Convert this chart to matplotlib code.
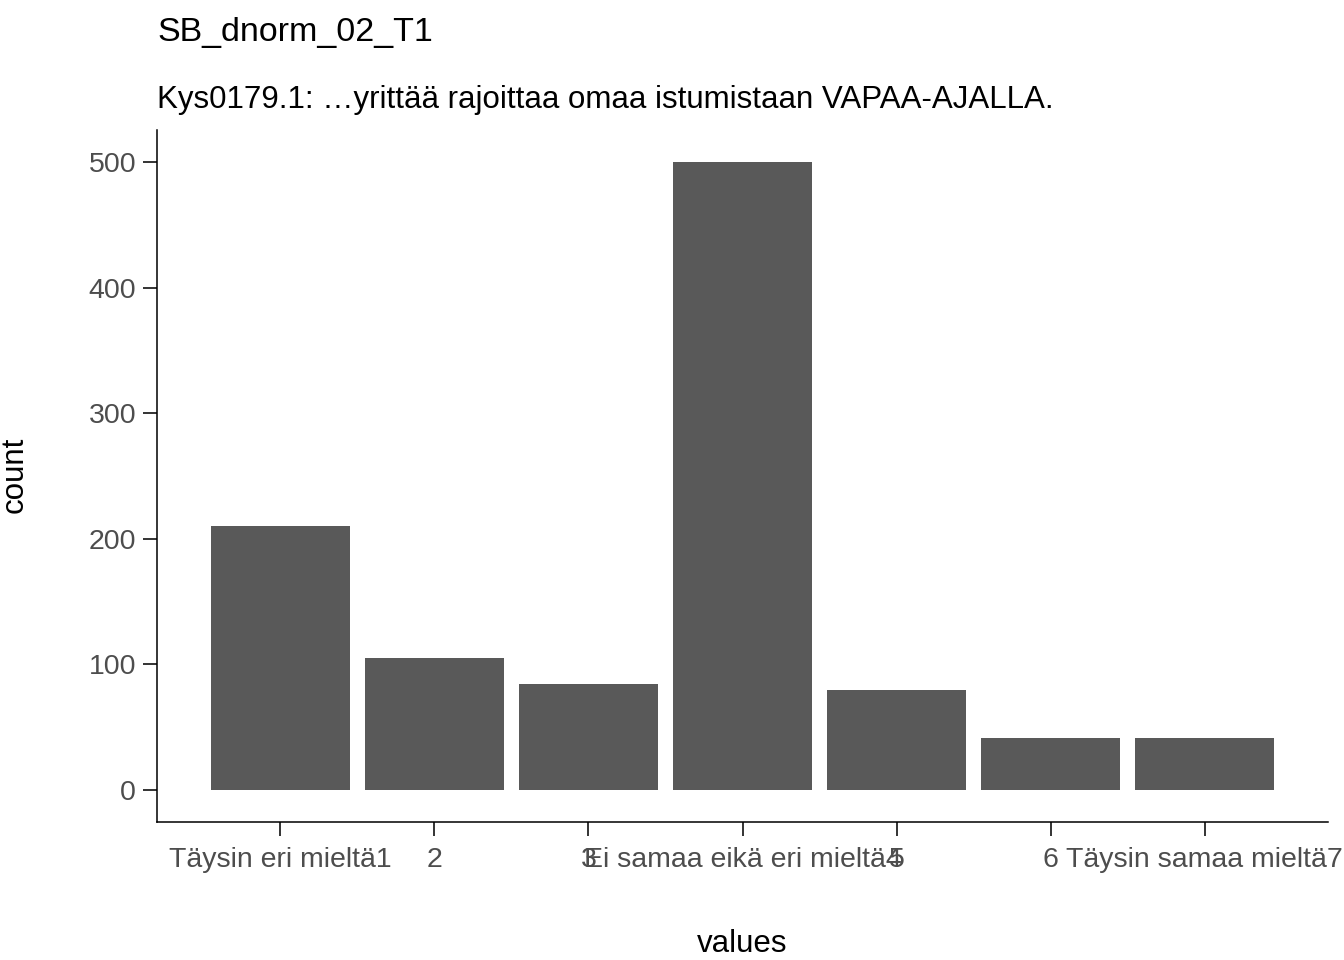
import matplotlib
matplotlib.use("Agg")
import matplotlib.pyplot as plt

labels = ["Täysin eri mieltä1", "2", "3", "Ei samaa eikä eri mieltä4", "5", "6", "Täysin samaa mieltä7"]
counts = [210, 105, 84, 500, 80, 41, 41]
yticks = [0, 100, 200, 300, 400, 500]

plt.rcParams['font.family'] = ['Liberation Sans', 'DejaVu Sans']
fig = plt.figure(figsize=(13.44, 9.6), dpi=100)
ax = fig.add_axes([157/1344, 1-822/960, (1328-157)/1344, (822-130)/960])
x = list(range(1, len(counts)+1))
ax.bar(x, counts, width=0.9, color='#595959')
ax.set_xlim(0.2, 7.8)
ax.set_ylim(-25.5, 525.5)
ax.set_xticks(x)
ax.set_xticklabels(labels)
ax.set_yticks(yticks)
for s in ['top', 'right']:
    ax.spines[s].set_visible(False)
for s in ['left', 'bottom']:
    ax.spines[s].set_linewidth(1.1)
ax.tick_params(axis='both', labelsize=20.5, colors='#4d4d4d', length=10, width=1.4)
ax.tick_params(axis='x', pad=8, labelcolor='#4d4d4d', color='#333333')
ax.tick_params(axis='y', pad=5, color='#333333')
ax.set_xlabel('values', fontsize=22.5)
ax.set_ylabel('count', fontsize=22.5)
ax.xaxis.set_label_coords((742-157)/(1328-157), -(929-822)/(822-130))
ax.yaxis.set_label_coords(-(157-30)/(1328-157), (822-475)/(822-130))
fig.text(157/1344, 1-32/960, 'SB_dnorm_02_T1', fontsize=24.5, va='center')
fig.text(157/1344, 1-100/960, 'Kys0179.1: …yrittää rajoittaa omaa istumistaan VAPAA-AJALLA.', fontsize=22.5, va='center')
fig.savefig('out.png', dpi=100)
